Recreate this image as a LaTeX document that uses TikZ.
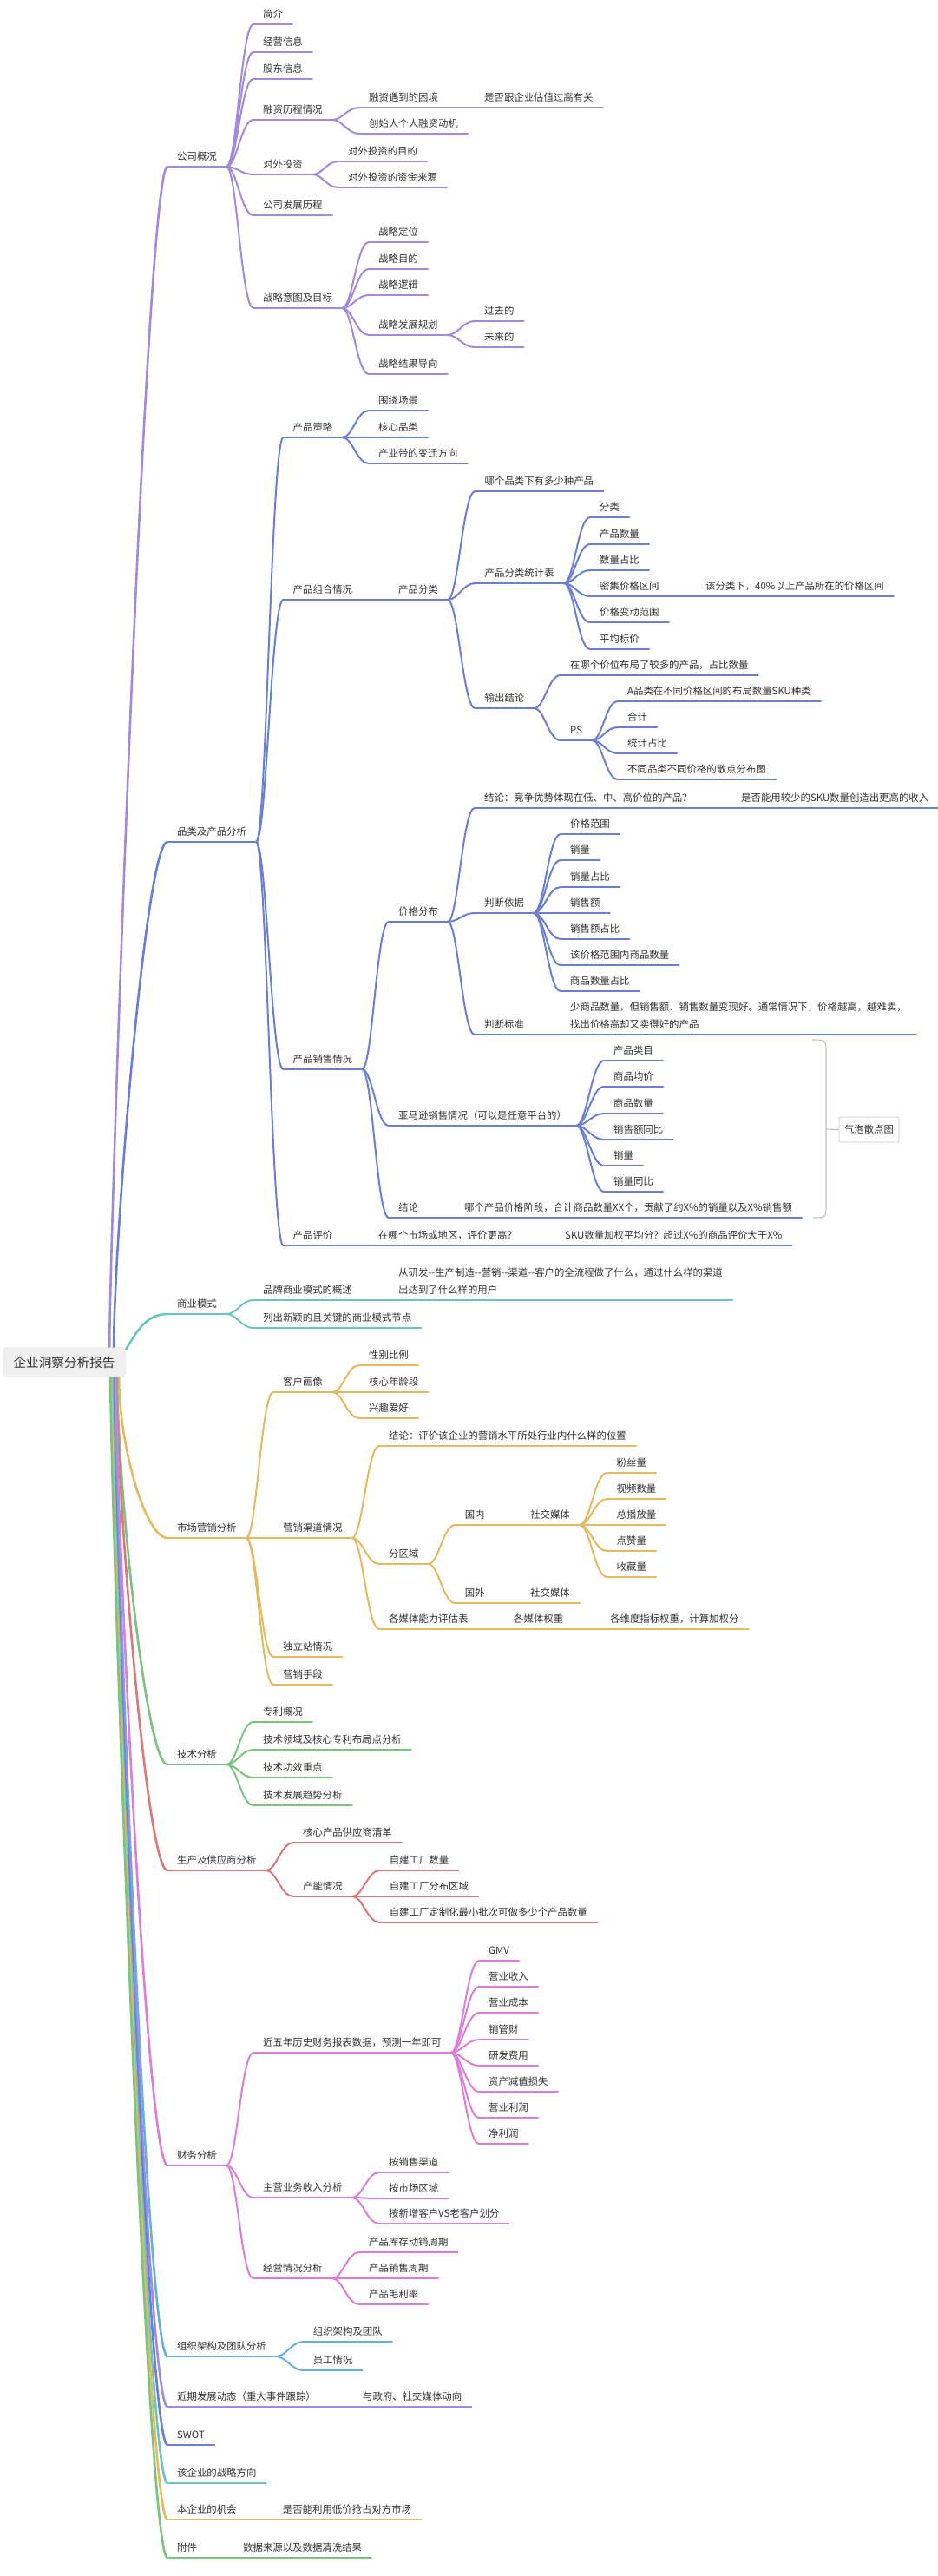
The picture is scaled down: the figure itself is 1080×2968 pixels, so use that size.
\documentclass[tikz,border=0pt]{standalone}
\usepackage{fontspec}
\setmainfont{Noto Sans CJK SC}
\usepackage{xcolor}
\usepackage{tikz}

\definecolor{ink}{HTML}{333333}
\definecolor{mlilac}{HTML}{A189DE}
\definecolor{miris}{HTML}{6A7ED6}
\definecolor{mteal}{HTML}{6CC4C4}
\definecolor{mgold}{HTML}{E6B95F}
\definecolor{mgreen}{HTML}{7AC480}
\definecolor{mred}{HTML}{DE7878}
\definecolor{mpink}{HTML}{DE7DD7}
\definecolor{msky}{HTML}{68AFE1}

\tikzset{
  topic/.style={anchor=south west, inner xsep=11pt, inner ysep=5pt,
    text height=9pt, text depth=2.5pt, text=ink,
    font=\fontsize{11.4pt}{20pt}\selectfont,
    append after command={(\tikzlastnode.south west) edge[line width=2pt, line cap=round, draw=#1] (\tikzlastnode.south east)}},
  link/.style={line width=2pt, line cap=round, draw=#1,
    to path={.. controls +(12,0) and +(-14,0) .. (\tikztotarget)}},
  trunk/.style n args={2}{line width=2.6pt, line cap=round, draw=#1,
    to path={.. controls +#2 and +(-25,0) .. (\tikztotarget)}},
  hub/.style={fill=black!6, rounded corners=4pt, minimum width=142pt, minimum height=35pt,
    inner sep=0pt, text=ink, font=\fontsize{14.6pt}{18pt}\selectfont},
  bubble/.style={draw=black!22, line width=0.9pt, rounded corners=1.5pt, minimum width=69pt,
    minimum height=29pt, inner sep=0pt, text=ink, font=\fontsize{11.4pt}{14pt}\selectfont},
  brace/.style={draw=black!25, line width=1.1pt},
}

\begin{document}
\begin{tikzpicture}[x=1pt, y=-1pt]
\fill[white] (0,0) rectangle (1080,2968);
\useasboundingbox (0,0) rectangle (1080,2968);

\node[hub] (root) at (74,1569.5) {企业洞察分析报告};

\node[topic=mlilac] (company) at (193,192) {公司概况};
\node[topic=mlilac] (brief) at (292,28) {简介};
\node[topic=mlilac] (business) at (292,60) {经营信息};
\node[topic=mlilac] (holders) at (292,91) {股东信息};
\node[topic=mlilac] (funding) at (292,138) {融资历程情况};
\node[topic=mlilac] (fundtrouble) at (414,124) {融资遇到的困境};
\node[topic=mlilac] (valuation) at (547,124) {是否跟企业估值过高有关};
\node[topic=mlilac] (founder) at (414,154) {创始人个人融资动机};
\node[topic=mlilac] (invest) at (292,201) {对外投资};
\node[topic=mlilac] (investaim) at (390,186) {对外投资的目的};
\node[topic=mlilac] (investfund) at (390,216) {对外投资的资金来源};
\node[topic=mlilac] (history) at (292,248) {公司发展历程};
\node[topic=mlilac] (strategy) at (292,355) {战略意图及目标};
\node[topic=mlilac] (position) at (425,279) {战略定位};
\node[topic=mlilac] (purpose) at (425,310) {战略目的};
\node[topic=mlilac] (logic) at (425,340) {战略逻辑};
\node[topic=mlilac] (plan) at (425,386) {战略发展规划};
\node[topic=mlilac] (past) at (547,370) {过去的};
\node[topic=mlilac] (future) at (547,400) {未来的};
\node[topic=mlilac] (result) at (425,431) {战略结果导向};

\node[topic=miris] (product) at (193,970) {品类及产品分析};
\node[topic=miris] (pstrategy) at (326.5,504) {产品策略};
\node[topic=miris] (scene) at (425,473) {围绕场景};
\node[topic=miris] (corecat) at (425,504) {核心品类};
\node[topic=miris] (belt) at (425,534) {产业带的变迁方向};
\node[topic=miris] (mix) at (326.5,691) {产品组合情况};
\node[topic=miris] (classify) at (448,691) {产品分类};
\node[topic=miris] (howmany) at (547.5,566) {哪个品类下有多少种产品};
\node[topic=miris] (stats) at (547.5,672) {产品分类统计表};
\node[topic=miris] (cat) at (680,596) {分类};
\node[topic=miris] (count) at (680,627) {产品数量};
\node[topic=miris] (share) at (680,657) {数量占比};
\node[topic=miris] (dense) at (680,687) {密集价格区间};
\node[topic=miris] (densenote) at (802,687) {该分类下，40\%以上产品所在的价格区间};
\node[topic=miris] (range) at (680,717) {价格变动范围};
\node[topic=miris] (avg) at (680,748) {平均标价};
\node[topic=miris] (output) at (547.5,816) {输出结论};
\node[topic=miris] (where) at (646,778) {在哪个价位布局了较多的产品，占比数量};
\node[topic=miris] (ps) at (646,853) {PS};
\node[topic=miris] (skukind) at (712,808) {A品类在不同价格区间的布局数量SKU种类};
\node[topic=miris] (total) at (712,838) {合计};
\node[topic=miris] (ratio) at (712,868) {统计占比};
\node[topic=miris] (scatter) at (712,898) {不同品类不同价格的散点分布图};
\node[topic=miris] (sales) at (326.5,1232) {产品销售情况};
\node[topic=miris] (pricedist) at (448,1062) {价格分布};
\node[topic=miris] (verdict) at (547,931) {结论：竞争优势体现在低、中、高价位的产品？};
\node[topic=miris] (fewsku) at (843,931) {是否能用较少的SKU数量创造出更高的收入};
\node[topic=miris] (basis) at (547,1052) {判断依据};
\node[topic=miris] (basis1) at (646,961) {价格范围};
\node[topic=miris] (basis2) at (646,991) {销量};
\node[topic=miris] (basis3) at (646,1022) {销量占比};
\node[topic=miris] (basis4) at (646,1052) {销售额};
\node[topic=miris] (basis5) at (646,1082) {销售额占比};
\node[topic=miris] (basis6) at (646,1112) {该价格范围内商品数量};
\node[topic=miris] (basis7) at (646,1142) {商品数量占比};
\node[topic=miris] (rule) at (547,1192) {判断标准};
\node[topic=miris] (rulenote) at (646,1192) {\begin{tabular}[b]{@{}l@{}}少商品数量，但销售额、销售数量变现好。通常情况下，价格越高，越难卖，\\找出价格高却又卖得好的产品\end{tabular}};
\node[topic=miris] (amazon) at (448,1297) {亚马逊销售情况（可以是任意平台的）};
\node[topic=miris] (amazon1) at (696,1222) {产品类目};
\node[topic=miris] (amazon2) at (696,1252) {商品均价};
\node[topic=miris] (amazon3) at (696,1283) {商品数量};
\node[topic=miris] (amazon4) at (696,1313) {销售额同比};
\node[topic=miris] (amazon5) at (696,1343) {销量};
\node[topic=miris] (amazon6) at (696,1373) {销量同比};
\node[topic=miris] (concl) at (448,1403) {结论};
\node[topic=miris] (conclnote) at (524,1403) {哪个产品价格阶段，合计商品数量XX个，贡献了约X\%的销量以及X\%销售额};
\node[topic=miris] (review) at (326.5,1435) {产品评价};
\node[topic=miris] (market) at (425,1435) {在哪个市场或地区，评价更高？};
\node[topic=miris] (weighted) at (640,1435) {SKU数量加权平均分？超过X\%的商品评价大于X\%};

\coordinate (braceTop) at (936,1198);
\coordinate (braceMid) at (952,1301);
\coordinate (braceBot) at (937,1403);
\node[bubble] (bubble) at (1001.5,1301.5) {气泡散点图};

\node[topic=mteal] (model) at (193,1514) {商业模式};
\node[topic=mteal] (brand) at (292,1498) {品牌商业模式的概述};
\node[topic=mteal] (brandnote) at (448,1498) {\begin{tabular}[b]{@{}l@{}}从研发-{}-生产制造-{}-营销-{}-渠道-{}-客户的全流程做了什么，通过什么样的渠道\\出达到了什么样的用户\end{tabular}};
\node[topic=mteal] (novel) at (292,1530) {列出新颖的且关键的商业模式节点};

\node[topic=mgold] (marketing) at (193,1772) {市场营销分析};
\node[topic=mgold] (persona) at (315,1604) {客户画像};
\node[topic=mgold] (gender) at (414,1573) {性别比例};
\node[topic=mgold] (age) at (414,1604) {核心年龄段};
\node[topic=mgold] (hobby) at (414,1634) {兴趣爱好};
\node[topic=mgold] (channel) at (315,1772) {营销渠道情况};
\node[topic=mgold] (level) at (437,1666) {结论：评价该企业的营销水平所处行业内什么样的位置};
\node[topic=mgold] (region) at (437,1802) {分区域};
\node[topic=mgold] (home) at (524.6,1757) {国内};
\node[topic=mgold] (homesocial) at (600,1757) {社交媒体};
\node[topic=mgold] (fans) at (699.5,1697) {粉丝量};
\node[topic=mgold] (videos) at (699.5,1727) {视频数量};
\node[topic=mgold] (plays) at (699.5,1757) {总播放量};
\node[topic=mgold] (likes) at (699.5,1787) {点赞量};
\node[topic=mgold] (saves) at (699.5,1817) {收藏量};
\node[topic=mgold] (abroad) at (524.6,1847) {国外};
\node[topic=mgold] (abroadsocial) at (600,1847) {社交媒体};
\node[topic=mgold] (media) at (437,1877) {各媒体能力评估表};
\node[topic=mgold] (weight) at (581,1877) {各媒体权重};
\node[topic=mgold] (score) at (692,1877) {各维度指标权重，计算加权分};
\node[topic=mgold] (site) at (315,1909) {独立站情况};
\node[topic=mgold] (means) at (315,1941) {营销手段};

\node[topic=mgreen] (tech) at (193,2033) {技术分析};
\node[topic=mgreen] (patent) at (292,1984) {专利概况};
\node[topic=mgreen] (layout) at (292,2016) {技术领域及核心专利布局点分析};
\node[topic=mgreen] (effect) at (292,2048) {技术功效重点};
\node[topic=mgreen] (trend) at (292,2080) {技术发展趋势分析};

\node[topic=mred] (supply) at (193,2155) {生产及供应商分析};
\node[topic=mred] (vendors) at (338,2123) {核心产品供应商清单};
\node[topic=mred] (capacity) at (338,2185) {产能情况};
\node[topic=mred] (plants) at (437.6,2155) {自建工厂数量};
\node[topic=mred] (plantarea) at (437.6,2185) {自建工厂分布区域};
\node[topic=mred] (batch) at (437.6,2215) {自建工厂定制化最小批次可做多少个产品数量};

\node[topic=mpink] (finance) at (193,2495) {财务分析};
\node[topic=mpink] (fiveyear) at (292,2365) {近五年历史财务报表数据，预测一年即可};
\node[topic=mpink] (gmv) at (552,2259) {GMV};
\node[topic=mpink] (revenue) at (552,2289) {营业收入};
\node[topic=mpink] (cost) at (552,2319) {营业成本};
\node[topic=mpink] (expense) at (552,2350) {销管财};
\node[topic=mpink] (rnd) at (552,2380) {研发费用};
\node[topic=mpink] (impair) at (552,2410) {资产减值损失};
\node[topic=mpink] (oprofit) at (552,2440) {营业利润};
\node[topic=mpink] (nprofit) at (552,2470) {净利润};
\node[topic=mpink] (mainrev) at (292,2532) {主营业务收入分析};
\node[topic=mpink] (bychannel) at (437,2503) {按销售渠道};
\node[topic=mpink] (byregion) at (437,2533) {按市场区域};
\node[topic=mpink] (bycustomer) at (437,2562) {按新增客户VS老客户划分};
\node[topic=mpink] (operation) at (292,2625) {经营情况分析};
\node[topic=mpink] (turnover) at (414,2595) {产品库存动销周期};
\node[topic=mpink] (cycle) at (414,2625) {产品销售周期};
\node[topic=mpink] (margin) at (414,2655) {产品毛利率};

\node[topic=msky] (org) at (193,2715) {组织架构及团队分析};
\node[topic=msky] (team) at (349.7,2698) {组织架构及团队};
\node[topic=msky] (staff) at (349.7,2731) {员工情况};
\node[topic=mlilac] (recent) at (193,2773) {近期发展动态（重大事件跟踪）};
\node[topic=mlilac] (gov) at (407,2773) {与政府、社交媒体动向};
\node[topic=miris] (swot) at (193,2817) {SWOT};
\node[topic=mteal] (direction) at (193,2861) {该企业的战略方向};
\node[topic=mgold] (chance) at (193,2903) {本企业的机会};
\node[topic=mgold] (lowprice) at (314.7,2903) {是否能利用低价抢占对方市场};
\node[topic=mgreen] (appendix) at (193,2947) {附件};
\node[topic=mgreen] (datasrc) at (269,2947) {数据来源以及数据清洗结果};

\draw[trunk={mlilac}{(0,-120)}] ([xshift=-19pt]root.north east) to (company.south west);
\draw[trunk={miris}{(0,-120)}] ([xshift=-14pt]root.north east) to (product.south west);
\draw[trunk={mteal}{(12,-20)}] ([yshift=-3pt]root.north east) to (model.south west);
\draw[trunk={mgold}{(0,80)}] ([xshift=-8pt]root.south east) to (marketing.south west);
\draw[trunk={mgreen}{(0,120)}] ([xshift=-10pt]root.south east) to (tech.south west);
\draw[trunk={mred}{(0,120)}] ([xshift=-11pt]root.south east) to (supply.south west);
\draw[trunk={mpink}{(0,120)}] ([xshift=-12pt]root.south east) to (finance.south west);
\draw[trunk={msky}{(0,120)}] ([xshift=-13pt]root.south east) to (org.south west);
\draw[trunk={mlilac}{(0,120)}] ([xshift=-14pt]root.south east) to (recent.south west);
\draw[trunk={miris}{(0,120)}] ([xshift=-15pt]root.south east) to (swot.south west);
\draw[trunk={mteal}{(0,120)}] ([xshift=-16pt]root.south east) to (direction.south west);
\draw[trunk={mgold}{(0,120)}] ([xshift=-17pt]root.south east) to (chance.south west);
\draw[trunk={mgreen}{(0,120)}] ([xshift=-18pt]root.south east) to (appendix.south west);

\draw[link=mlilac] (company.south east) edge (brief.south west) edge (business.south west)
  edge (holders.south west) edge (funding.south west) edge (invest.south west)
  edge (history.south west) edge (strategy.south west);
\draw[link=mlilac] (funding.south east) edge (fundtrouble.south west) edge (founder.south west);
\draw[link=mlilac] (fundtrouble.south east) edge (valuation.south west);
\draw[link=mlilac] (invest.south east) edge (investaim.south west) edge (investfund.south west);
\draw[link=mlilac] (strategy.south east) edge (position.south west) edge (purpose.south west)
  edge (logic.south west) edge (plan.south west) edge (result.south west);
\draw[link=mlilac] (plan.south east) edge (past.south west) edge (future.south west);

\draw[link=miris] (product.south east) edge (pstrategy.south west) edge (mix.south west)
  edge (sales.south west) edge (review.south west);
\draw[link=miris] (pstrategy.south east) edge (scene.south west) edge (corecat.south west)
  edge (belt.south west);
\draw[link=miris] (mix.south east) edge (classify.south west);
\draw[link=miris] (classify.south east) edge (howmany.south west) edge (stats.south west)
  edge (output.south west);
\draw[link=miris] (stats.south east) edge (cat.south west) edge (count.south west)
  edge (share.south west) edge (dense.south west) edge (range.south west) edge (avg.south west);
\draw[link=miris] (dense.south east) edge (densenote.south west);
\draw[link=miris] (output.south east) edge (where.south west) edge (ps.south west);
\draw[link=miris] (ps.south east) edge (skukind.south west) edge (total.south west)
  edge (ratio.south west) edge (scatter.south west);
\draw[link=miris] (sales.south east) edge (pricedist.south west) edge (amazon.south west)
  edge (concl.south west);
\draw[link=miris] (pricedist.south east) edge (verdict.south west) edge (basis.south west)
  edge (rule.south west);
\draw[link=miris] (verdict.south east) edge (fewsku.south west);
\draw[link=miris] (basis.south east) edge (basis1.south west) edge (basis2.south west)
  edge (basis3.south west) edge (basis4.south west) edge (basis5.south west)
  edge (basis6.south west) edge (basis7.south west);
\draw[link=miris] (rule.south east) edge (rulenote.south west);
\draw[link=miris] (amazon.south east) edge (amazon1.south west) edge (amazon2.south west)
  edge (amazon3.south west) edge (amazon4.south west) edge (amazon5.south west)
  edge (amazon6.south west);
\draw[link=miris] (concl.south east) edge (conclnote.south west);
\draw[link=miris] (review.south east) edge (market.south west);
\draw[link=miris] (market.south east) edge (weighted.south west);
\draw[brace] (braceTop) .. controls (952,1198) .. (952,1214) -- (952,1387)
  .. controls (952,1403) .. (braceBot);
\draw[brace] (braceMid) -- (bubble.west);

\draw[link=mteal] (model.south east) edge (brand.south west) edge (novel.south west);
\draw[link=mteal] (brand.south east) edge (brandnote.south west);

\draw[link=mgold] (marketing.south east) edge (persona.south west) edge (channel.south west)
  edge (site.south west) edge (means.south west);
\draw[link=mgold] (persona.south east) edge (gender.south west) edge (age.south west)
  edge (hobby.south west);
\draw[link=mgold] (channel.south east) edge (level.south west) edge (region.south west)
  edge (media.south west);
\draw[link=mgold] (region.south east) edge (home.south west) edge (abroad.south west);
\draw[link=mgold] (home.south east) edge (homesocial.south west);
\draw[link=mgold] (homesocial.south east) edge (fans.south west) edge (videos.south west)
  edge (plays.south west) edge (likes.south west) edge (saves.south west);
\draw[link=mgold] (abroad.south east) edge (abroadsocial.south west);
\draw[link=mgold] (media.south east) edge (weight.south west);
\draw[link=mgold] (weight.south east) edge (score.south west);

\draw[link=mgreen] (tech.south east) edge (patent.south west) edge (layout.south west)
  edge (effect.south west) edge (trend.south west);

\draw[link=mred] (supply.south east) edge (vendors.south west) edge (capacity.south west);
\draw[link=mred] (capacity.south east) edge (plants.south west) edge (plantarea.south west)
  edge (batch.south west);

\draw[link=mpink] (finance.south east) edge (fiveyear.south west) edge (mainrev.south west)
  edge (operation.south west);
\draw[link=mpink] (fiveyear.south east) edge (gmv.south west) edge (revenue.south west)
  edge (cost.south west) edge (expense.south west) edge (rnd.south west)
  edge (impair.south west) edge (oprofit.south west) edge (nprofit.south west);
\draw[link=mpink] (mainrev.south east) edge (bychannel.south west) edge (byregion.south west)
  edge (bycustomer.south west);
\draw[link=mpink] (operation.south east) edge (turnover.south west) edge (cycle.south west)
  edge (margin.south west);

\draw[link=msky] (org.south east) edge (team.south west) edge (staff.south west);
\draw[link=mlilac] (recent.south east) edge (gov.south west);
\draw[link=mgold] (chance.south east) edge (lowprice.south west);
\draw[link=mgreen] (appendix.south east) edge (datasrc.south west);
\end{tikzpicture}
\end{document}
